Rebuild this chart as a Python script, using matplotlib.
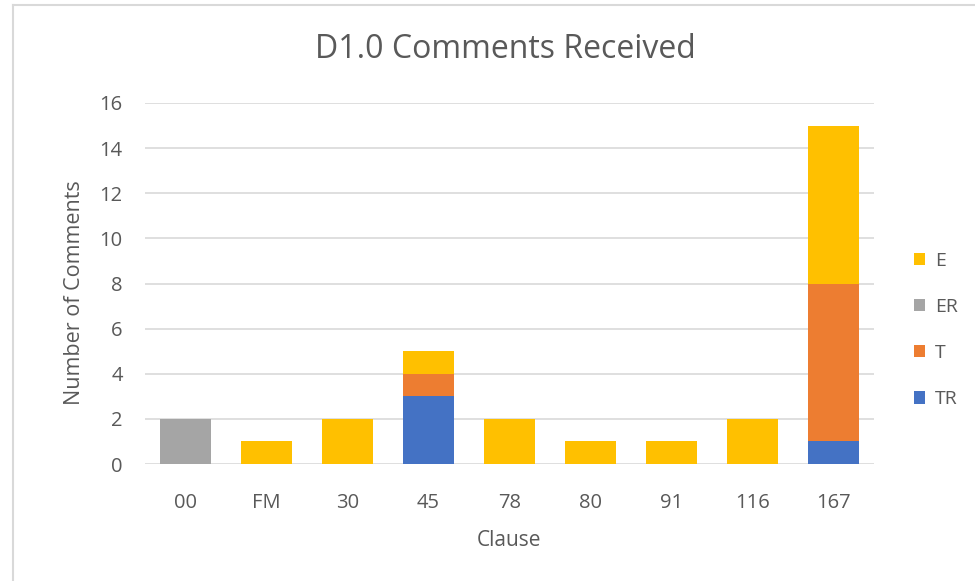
import matplotlib
matplotlib.use("Agg")
import matplotlib.pyplot as plt
from matplotlib.lines import Line2D
import numpy as np

plt.rcParams['font.family'] = ['Open Sans', 'DejaVu Sans']

categories = ["00", "FM", "30", "45", "78", "80", "91", "116", "167"]
TR = [0, 0, 0, 3, 0, 0, 0, 0, 1]
T  = [0, 0, 0, 1, 0, 0, 0, 0, 7]
ER = [2, 0, 0, 0, 0, 0, 0, 0, 0]
E  = [0, 1, 2, 1, 2, 1, 1, 2, 7]

series = [("TR", TR, "#4472C4"), ("T", T, "#ED7D31"), ("ER", ER, "#A5A5A5"), ("E", E, "#FFC000")]

txt = "#595959"
fig = plt.figure(figsize=(9.75, 5.81), dpi=100)
ax = fig.add_axes([145/975, 1-464/581, 729/975, 361/581])

x = np.arange(len(categories))
bottom = np.zeros(len(categories))
handles = {}
for name, vals, col in series:
    v = np.array(vals, dtype=float)
    b = ax.bar(x, v, 0.64, bottom=bottom, color=col, label=name, zorder=3)
    handles[name] = b
    bottom += v

ax.set_xlim(-0.5, len(categories) - 0.5)
ax.set_ylim(0, 16)
ax.set_yticks(range(0, 17, 2))
ax.set_xticks(x)
ax.set_xticklabels(categories)
ax.grid(axis='y', color='#D9D9D9', linewidth=1.2, zorder=0)
for s in ax.spines.values():
    s.set_visible(False)
ax.tick_params(axis='both', length=0, labelsize=14.5, colors=txt)
ax.tick_params(axis='y', pad=16)
ax.tick_params(axis='x', pad=21)
ax.set_xlabel("Clause", fontsize=15, color=txt, labelpad=12)
ax.set_ylabel("Number of Comments", fontsize=15.5, color=txt)
ax.yaxis.set_label_coords(-60/729, 0.475)
fig.text(505/975, 1-49/581, "D1.0 Comments Received", ha='center', va='center',
         fontsize=23, color=txt)

order = ["E", "ER", "T", "TR"]
leg = ax.legend([handles[n] for n in order], order, loc='center left',
                bbox_to_anchor=(896/975, 1-330/581), bbox_transform=fig.transFigure,
                frameon=False, fontsize=14, labelspacing=1.45, handlelength=0.6,
                handleheight=0.6, handletextpad=0.5, labelcolor=txt)

fig.add_artist(Line2D([13/975, 13/975], [0, 1-5/581], transform=fig.transFigure, color='#D9D9D9', lw=1.5))
fig.add_artist(Line2D([13/975, 1], [1-5/581, 1-5/581], transform=fig.transFigure, color='#D9D9D9', lw=1.5))

fig.savefig("out.png", dpi=100)
